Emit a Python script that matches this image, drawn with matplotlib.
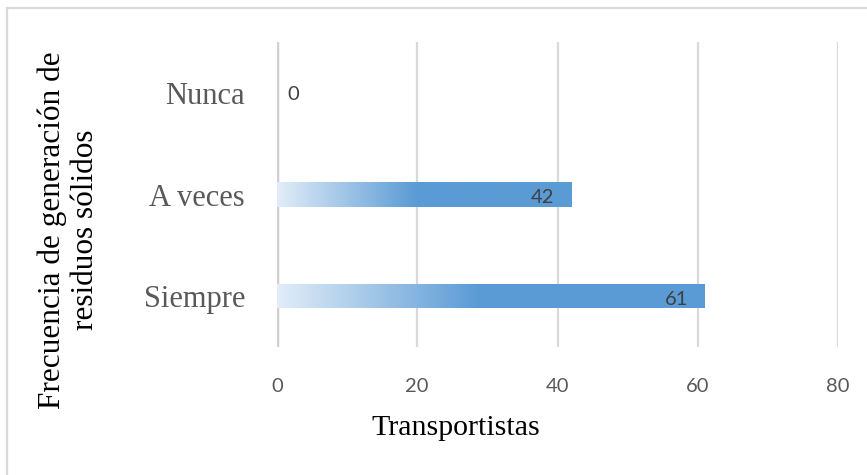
import matplotlib
matplotlib.use("Agg")
import matplotlib.pyplot as plt
import numpy as np
from matplotlib.colors import LinearSegmentedColormap
from matplotlib.patches import Rectangle

# frecuencia de generación de residuos sólidos (transportistas)
categorias = ["Siempre", "A veces", "Nunca"]
transportistas = [61, 42, 0]
x_ticks = [0, 20, 40, 60, 80]

fig = plt.figure(figsize=(8.67, 4.75), dpi=100)
ax = fig.add_axes([277/867, 1-347/475, (838-277)/867, (347-42)/475])

# light-to-blue fill over the first half of each bar, solid after
cmap = LinearSegmentedColormap.from_list(
    "relleno", [(0, "#e2edf8"), (0.47, "#5b9bd5"), (1, "#5b9bd5")])
grad = np.linspace(0, 1, 256).reshape(1, -1)

bars = ax.barh(categorias, transportistas, height=0.24, color="none",
               edgecolor="none", zorder=3)
for b in bars:
    x0, y0 = b.get_x(), b.get_y()
    w, h = b.get_width(), b.get_height()
    if w <= 0:
        continue
    im = ax.imshow(grad, cmap=cmap, aspect="auto", extent=(x0, x0+w, y0, y0+h),
                   zorder=3, interpolation="bicubic")
    im.set_clip_path(b)

ax.set_xlim(0, 80)
ax.set_ylim(-0.5, 2.5)
ax.set_xticks(x_ticks)

# etiquetas de valor
for b, v in zip(bars, transportistas):
    yc = b.get_y() + b.get_height()/2
    if v > 0:
        ax.annotate(str(v), (v, yc), xytext=(-17, -3), textcoords="offset pixels",
                    ha="right", va="center", fontsize=14.5, family="Lato",
                    color="#404040", zorder=4)
    else:
        ax.annotate(str(v), (v, yc), xytext=(10, -2), textcoords="offset pixels",
                    ha="left", va="center", fontsize=14.5, family="Lato",
                    color="#404040", zorder=4)

ax.grid(axis="x", color="#d9d9d9", linewidth=1.6, zorder=0)
ax.axvline(0, color="#d0d0d0", linewidth=2.5, zorder=2)
for s in ax.spines.values():
    s.set_visible(False)
ax.tick_params(axis="both", length=0)
ax.tick_params(axis="x", pad=22, labelsize=14.5, labelcolor="#595959")
ax.tick_params(axis="y", pad=23, labelsize=22, labelcolor="#595959")
for lab in ax.get_xticklabels():
    lab.set_family("Lato")
for lab in ax.get_yticklabels():
    lab.set_family("Liberation Serif")

fig.text(456/867, 1-428/475, "Transportistas", ha="center", va="center",
         fontsize=21.5, family="Liberation Serif", color="#000000")
fig.text(69/867, 1-230/475, "Frecuencia de generación de\nresiduos sólidos",
         ha="center", va="center", rotation=90, fontsize=22.5,
         family="Liberation Serif", color="#000000", linespacing=1.2)

# marco exterior
fig.add_artist(Rectangle((7/867, -0.1), 1.2, 1 - 8/475 + 0.1,
                         transform=fig.transFigure, fill=False,
                         edgecolor="#d9d9d9", linewidth=1.6))

fig.savefig("out.png", dpi=100)
